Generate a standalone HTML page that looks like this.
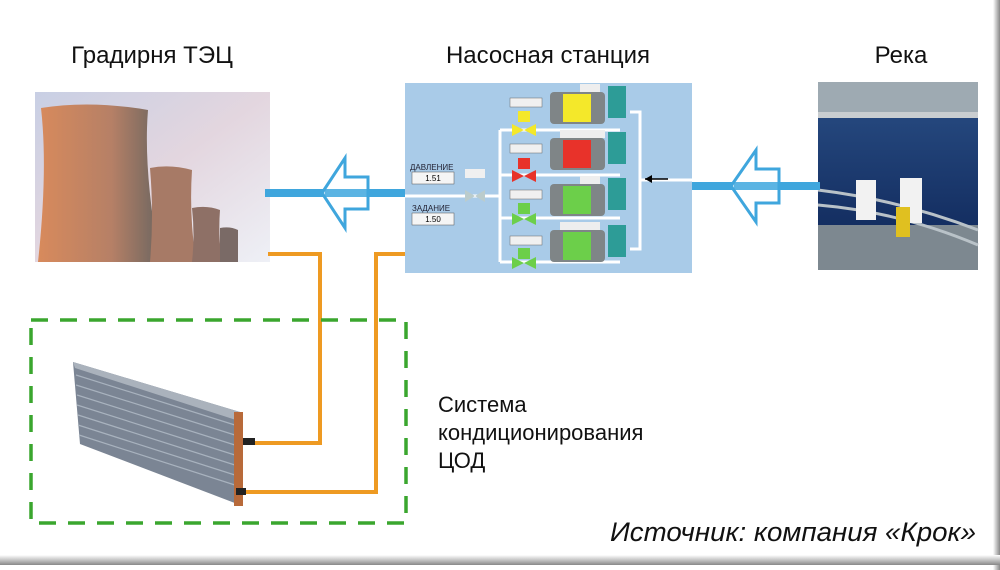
<!DOCTYPE html>
<html><head><meta charset="utf-8"><style>
html,body{margin:0;padding:0;background:#fff;width:1000px;height:570px;overflow:hidden}
svg{display:block}
</style></head><body>
<svg width="1000" height="570" viewBox="0 0 1000 570" xmlns="http://www.w3.org/2000/svg" font-family="Liberation Sans, sans-serif">
<defs>
<linearGradient id="sky" x1="0" y1="0" x2="1" y2="1"><stop offset="0" stop-color="#c8cfe4"/><stop offset="0.5" stop-color="#e3d6df"/><stop offset="1" stop-color="#eef0f6"/></linearGradient>
<linearGradient id="tw" x1="0" x2="1"><stop offset="0" stop-color="#d88a5c"/><stop offset="0.6" stop-color="#b68066"/><stop offset="1" stop-color="#6e6660"/></linearGradient>
<linearGradient id="wat" x1="0" y1="0" x2="0" y2="1"><stop offset="0" stop-color="#2a4f86"/><stop offset="1" stop-color="#0d2456"/></linearGradient>
<linearGradient id="shR" x1="0" x2="1"><stop offset="0" stop-color="#fff"/><stop offset="1" stop-color="#888"/></linearGradient>
<linearGradient id="shB" x1="0" y1="0" x2="0" y2="1"><stop offset="0" stop-color="#fff"/><stop offset="1" stop-color="#888"/></linearGradient>
</defs>
<rect x="993" y="0" width="7" height="570" fill="url(#shR)"/>
<rect x="0" y="555" width="1000" height="10" fill="url(#shB)"/>

<text x="152" y="63" font-size="24" text-anchor="middle" fill="#111">Градирня ТЭЦ</text>
<text x="548" y="63" font-size="24" text-anchor="middle" fill="#111">Насосная станция</text>
<text x="901" y="63" font-size="24" text-anchor="middle" fill="#111">Река</text>

<rect x="35" y="92" width="235" height="170" fill="url(#sky)"/>
<path d="M41 108 Q90 100 148 110 Q143 170 160 262 L38 262 Q48 170 41 108 Z" fill="url(#tw)"/>
<path d="M150 168 Q170 164 192 170 Q189 215 196 262 L150 262 Q154 215 150 168Z" fill="#a77a66"/>
<path d="M192 208 Q207 205 220 210 Q218 235 222 262 L192 262 Q195 235 192 208Z" fill="#8e7066"/>
<path d="M220 228 Q230 226 238 230 L238 262 L220 262Z" fill="#7a6a66"/>

<rect x="818" y="82" width="160" height="188" fill="url(#wat)"/>
<rect x="818" y="82" width="160" height="32" fill="#9eaab2"/>
<rect x="818" y="112" width="160" height="6" fill="#c9cdd0"/>
<rect x="818" y="225" width="160" height="45" fill="#7d8890"/>
<path d="M818 190 Q900 200 978 230" stroke="#b9c2c8" stroke-width="3" fill="none"/>
<path d="M818 205 Q900 212 978 245" stroke="#b9c2c8" stroke-width="3" fill="none"/>
<rect x="856" y="180" width="20" height="40" fill="#f2f2f2"/>
<rect x="900" y="178" width="22" height="45" fill="#f2f2f2"/>
<rect x="896" y="207" width="14" height="30" fill="#e0c020"/>

<rect x="265" y="189" width="140" height="8" fill="#3fa6dd"/>
<rect x="692" y="182" width="128" height="8" fill="#3fa6dd"/>
<path d="M322 193 L345 158 L345 177 L368 177 L368 209 L345 209 L345 228 Z" fill="#fff" fill-opacity="0.75" stroke="#3fa6dd" stroke-width="3"/>
<rect x="325" y="189" width="43" height="8" fill="#3fa6dd" opacity="0.8"/>
<path d="M731 186 L756 150 L756 169 L779 169 L779 203 L756 203 L756 222 Z" fill="#fff" fill-opacity="0.75" stroke="#3fa6dd" stroke-width="3"/>
<rect x="734" y="182" width="45" height="8" fill="#3fa6dd" opacity="0.8"/>

<rect x="405" y="83" width="287" height="190" fill="#a9cbe8"/>
<g stroke="#fff" stroke-width="3" fill="none">
<path d="M405 196 L500 196"/>
<path d="M500 130 L500 262 M500 130 L620 130 M500 175 L620 175 M500 218 L620 218 M500 262 L620 262"/>
<path d="M630 112 L640 112 L640 249 L630 249 M640 180 L692 180"/>
</g>
<g fill="#2d9c97"><rect x="608" y="86" width="18" height="32"/><rect x="608" y="132" width="18" height="32"/><rect x="608" y="178" width="18" height="32"/><rect x="608" y="225" width="18" height="32"/></g>
<g fill="#7f8587"><rect x="550" y="92" width="55" height="32" rx="4"/><rect x="550" y="138" width="55" height="32" rx="4"/><rect x="550" y="184" width="55" height="32" rx="4"/><rect x="550" y="230" width="55" height="32" rx="4"/></g>
<rect x="563" y="94" width="28" height="28" fill="#f4e82a"/>
<rect x="563" y="140" width="28" height="28" fill="#e8322a"/>
<rect x="563" y="186" width="28" height="28" fill="#6ccf4a"/>
<rect x="563" y="232" width="28" height="28" fill="#6ccf4a"/>
<g fill="#eee"><rect x="580" y="84" width="20" height="8"/><rect x="560" y="130" width="45" height="8"/><rect x="580" y="176" width="20" height="8"/><rect x="560" y="222" width="40" height="8"/></g>
<g fill="#f0f0f0" stroke="#666" stroke-width="0.5"><rect x="510" y="98" width="32" height="9"/><rect x="510" y="144" width="32" height="9"/><rect x="510" y="190" width="32" height="9"/><rect x="510" y="236" width="32" height="9"/></g>
<rect x="518" y="111" width="12" height="11" fill="#f4e82a"/><path d="M512 124 L536 136 L536 124 L512 136Z" fill="#f4e82a"/>
<rect x="518" y="158" width="12" height="11" fill="#e8322a"/><path d="M512 170 L536 182 L536 170 L512 182Z" fill="#e8322a"/>
<rect x="518" y="203" width="12" height="11" fill="#6ccf4a"/><path d="M512 213 L536 225 L536 213 L512 225Z" fill="#6ccf4a"/>
<rect x="518" y="248" width="12" height="11" fill="#6ccf4a"/><path d="M512 257 L536 269 L536 257 L512 269Z" fill="#6ccf4a"/>
<path d="M465 190 L485 202 L485 190 L465 202Z" fill="#bcc"/>
<rect x="465" y="169" width="20" height="9" fill="#f0f0f0"/>
<text x="410" y="170" font-size="8" fill="#223">ДАВЛЕНИЕ</text>
<rect x="412" y="172" width="42" height="12" fill="#f5f5f5" stroke="#555" stroke-width="0.5"/>
<text x="433" y="181" font-size="8" text-anchor="middle">1.51</text>
<text x="412" y="211" font-size="8" fill="#223">ЗАДАНИЕ</text>
<rect x="412" y="213" width="42" height="12" fill="#f5f5f5" stroke="#555" stroke-width="0.5"/>
<text x="433" y="222" font-size="8" text-anchor="middle">1.50</text>
<path d="M645 179 L668 179" stroke="#000" stroke-width="1.5"/><path d="M645 179 L652 175 L652 183Z"/>

<g stroke="#ee9a22" stroke-width="4" fill="none">
<path d="M268 254 L320 254 L320 443 L255 443"/>
<path d="M405 254 L376 254 L376 492 L245 492"/>
</g>

<rect x="31" y="320" width="375" height="203" fill="none" stroke="#3aa62e" stroke-width="3.5" stroke-dasharray="17,12"/>

<path d="M73 362 L240 412 L240 505 L80 444 Z" fill="#7b8594"/>
<path d="M73 362 L240 412 L236 420 L75 368Z" fill="#aab2bc"/>
<g stroke="#a8b2be" stroke-width="1.2">
<path d="M76 375 L238 426"/><path d="M76 385 L238 436"/><path d="M77 395 L238 446"/><path d="M77 405 L238 456"/><path d="M78 415 L238 466"/><path d="M78 425 L238 476"/><path d="M79 435 L238 486"/>
</g>
<rect x="234" y="412" width="9" height="94" fill="#b86a3a"/>
<rect x="243" y="438" width="12" height="7" fill="#222"/>
<rect x="236" y="488" width="10" height="7" fill="#222"/>

<text x="438" y="412" font-size="22" fill="#111">Система</text>
<text x="438" y="440" font-size="22" fill="#111">кондиционирования</text>
<text x="438" y="468" font-size="22" fill="#111">ЦОД</text>
<text x="976" y="541" font-size="27" font-style="italic" text-anchor="end" fill="#111" textLength="366" lengthAdjust="spacingAndGlyphs">Источник: компания «Крок»</text>
</svg>
</body></html>
